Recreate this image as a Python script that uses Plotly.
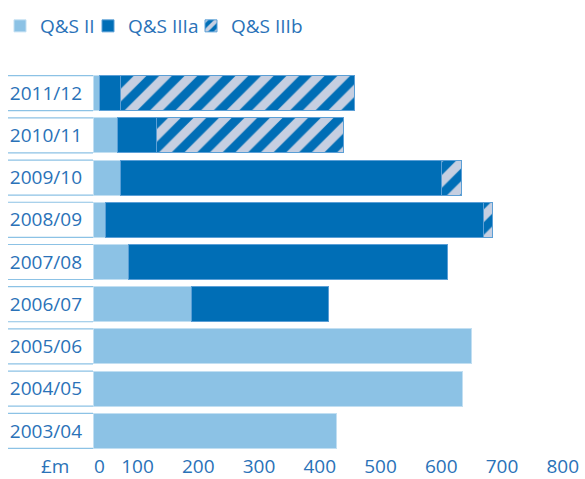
import plotly.graph_objects as go

# Expenditure by year (£m), bottom row first
years = ["2003/04", "2004/05", "2005/06", "2006/07", "2007/08",
         "2008/09", "2009/10", "2010/11", "2011/12"]
qs_ii = [400, 608, 623, 162, 59, 21, 46, 41, 10]
qs_iiia = [None, None, None, 225, 525, 621, 528, 63, 36]
qs_iiib = [None, None, None, None, None, 15, 32, 308, 385]

x_ticks = [100, 200, 300, 400, 500, 600, 700, 800]
x_zero = 0
x_range = [0, 800]

LIGHT = "#8cc2e5"
DARK = "#006eb6"
STRIPE = "#c6cfe1"
TEXT = "#2a72b8"
FONT = "Open Sans"

W, H = 585, 479
ML, MR, MT, MB = 93, 6, 72, 27
BAR_FRAC = 0.83

fig = go.Figure()

fig.add_trace(go.Bar(
    y=years, x=qs_ii, orientation="h", name="Q&S II",
    marker=dict(color=LIGHT, line=dict(color="#c2dff2", width=1)),
    legend="legend",
))
fig.add_trace(go.Bar(
    y=years, x=qs_iiia, orientation="h", name="Q&S IIIa",
    marker=dict(color=DARK, line=dict(color="#5b9fd6", width=1)),
    legend="legend2",
))
fig.add_trace(go.Bar(
    y=years, x=qs_iiib, orientation="h", name="Q&S IIIb",
    marker=dict(color=DARK, line=dict(color="#5b9fd6", width=1),
                pattern=dict(shape="/", fgcolor=STRIPE, bgcolor=DARK,
                             size=18, solidity=0.5, fillmode="replace")),
    legend="legend3",
))

# thin rules above and below each year label
plot_w = W - ML - MR
plot_h = H - MT - MB
rule_x0 = (8 - ML) / plot_w
half = BAR_FRAC / 2
for i, _ in enumerate(years):
    for edge in (i - half, i + half):
        fig.add_shape(type="line", xref="paper", yref="y",
                      x0=rule_x0, x1=0, y0=edge, y1=edge,
                      line=dict(color=LIGHT, width=1.2), layer="below")

label_y = -(466 - (H - MB)) / plot_h

# currency unit beside the value axis
fig.add_annotation(text="£m", xref="paper", yref="paper",
                   x=(71 - ML) / plot_w, y=label_y,
                   xanchor="right", yanchor="middle", showarrow=False,
                   font=dict(family=FONT, size=19, color=TEXT))
# zero label sits just right of the axis origin
fig.add_annotation(text=str(x_zero), xref="x", yref="paper",
                   x=x_zero, y=label_y, xanchor="left", yanchor="middle",
                   showarrow=False, xshift=-1,
                   font=dict(family=FONT, size=19, color=TEXT))

legend_common = dict(orientation="h", xref="container", yref="container",
                     yanchor="middle", y=1 - 26 / H, bgcolor="rgba(0,0,0,0)",
                     font=dict(family=FONT, size=19, color=TEXT),
                     itemclick=False)

fig.update_layout(
    width=W, height=H,
    margin=dict(l=ML, r=MR, t=MT, b=MB),
    paper_bgcolor="white", plot_bgcolor="white",
    barmode="stack", bargap=1 - BAR_FRAC,
    showlegend=True,
    legend=dict(legend_common, x=0),
    legend2=dict(legend_common, x=88 / W),
    legend3=dict(legend_common, x=191 / W),
    font=dict(family=FONT, size=19, color=TEXT),
    xaxis=dict(range=x_range, tickvals=x_ticks, ticklabelposition="outside left",
               showgrid=False, zeroline=False, showline=False, ticks="",
               ticklabelstandoff=1, automargin=False,
               tickfont=dict(family=FONT, size=19, color=TEXT),
               fixedrange=True),
    yaxis=dict(range=[-0.5, len(years) - 0.5], showgrid=False, zeroline=False,
               showline=False, ticks="", ticklabelstandoff=10, automargin=False,
               tickfont=dict(family=FONT, size=19, color=TEXT),
               fixedrange=True),
)

fig.write_html("out.html")
